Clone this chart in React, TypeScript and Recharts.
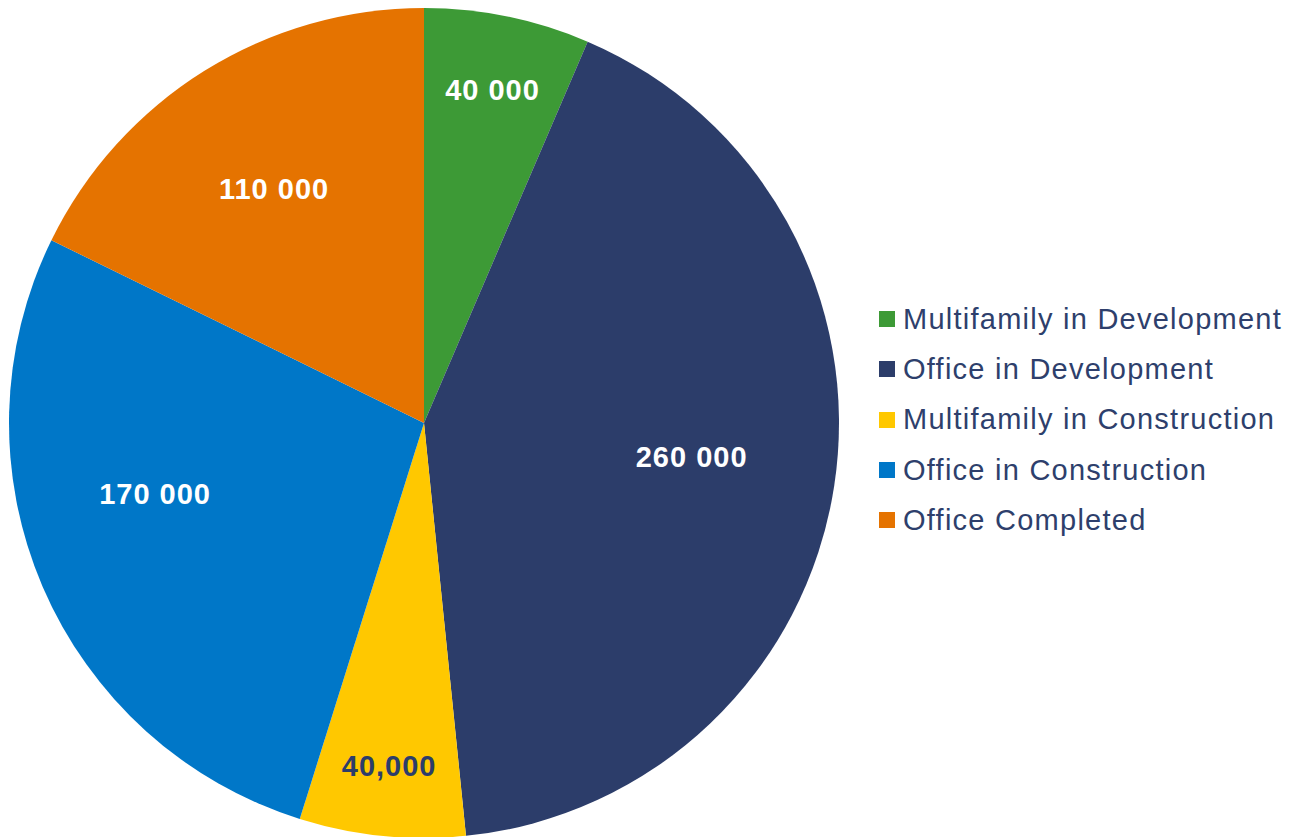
import { Legend, Pie, PieChart, Cell } from "recharts";

const categories = [
  "Multifamily in Development",
  "Office in Development",
  "Multifamily in Construction",
  "Office in Construction",
  "Office Completed",
];
const values = [40000, 260000, 40000, 170000, 110000];
const valueLabels = ["40 000", "260 000", "40,000", "170 000", "110 000"];

const COLORS = ["#3D9A36", "#2C3D6A", "#FFC800", "#0077C8", "#E57300"];
const LABEL_COLORS = ["#FFFFFF", "#FFFFFF", "#2C3D6A", "#FFFFFF", "#FFFFFF"];
// label placement tweaks (radius fraction, angle shift in degrees)
const LABEL_R = [0.82, 0.65, 0.83, 0.67, 0.67];
const LABEL_SHIFT = [0, 1.5, 0, -8.5, 0.7];

const data = categories.map((name, i) => ({ name, value: values[i] }));

const RAD = Math.PI / 180;
const FONT = "'Liberation Sans', Arial, sans-serif";

function renderLabel(props: any) {
  const { cx, cy, midAngle, outerRadius, index } = props;
  const a = (midAngle + LABEL_SHIFT[index]) * RAD;
  const r = outerRadius * LABEL_R[index];
  const x = cx + r * Math.cos(-a);
  const y = cy + r * Math.sin(-a);
  return (
    <text
      x={x}
      y={y}
      fill={LABEL_COLORS[index]}
      textAnchor="middle"
      dominantBaseline="central"
      fontFamily={FONT}
      fontWeight={700}
      fontSize={29}
      letterSpacing={1}
    >
      {valueLabels[index]}
    </text>
  );
}

function renderLegend() {
  return (
    <div style={{ fontFamily: FONT }}>
      {categories.map((c, i) => (
        <div
          key={c}
          style={{
            display: "flex",
            alignItems: "center",
            height: 50.3,
            color: "#2E3F6C",
            fontSize: 29,
            letterSpacing: 1.25,
            whiteSpace: "nowrap",
          }}
        >
          <span
            style={{
              width: 16,
              height: 16,
              background: COLORS[i],
              marginRight: 8,
              display: "inline-block",
              flex: "none",
            }}
          />
          <span>{c}</span>
        </div>
      ))}
    </div>
  );
}

export default function App() {
  return (
    <div style={{ position: "absolute", top: 0, left: 0, background: "#fff" }}>
      <PieChart
        width={1291}
        height={837}
        margin={{ top: 0, right: 0, bottom: 0, left: 0 }}
      >
        <Pie
          data={data}
          dataKey="value"
          nameKey="name"
          cx={424}
          cy={423}
          outerRadius={415}
          startAngle={90}
          endAngle={-270}
          stroke="none"
          label={renderLabel}
          labelLine={false}
          isAnimationActive={false}
        >
          {data.map((_, i) => (
            <Cell key={`cell-${i}`} fill={COLORS[i]} />
          ))}
        </Pie>
        <Legend
          content={renderLegend}
          layout="vertical"
          align="right"
          verticalAlign="top"
          wrapperStyle={{ left: 879, top: 294, width: 412 }}
        />
      </PieChart>
    </div>
  );
}
